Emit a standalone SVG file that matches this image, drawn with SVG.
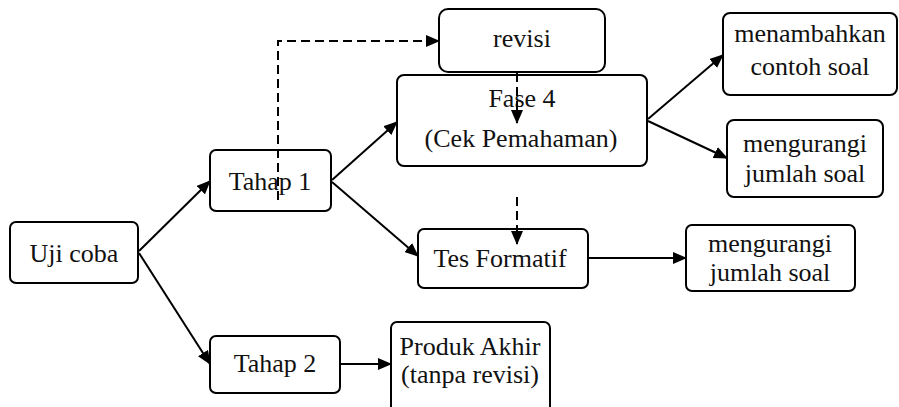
<svg xmlns="http://www.w3.org/2000/svg" width="899" height="407" viewBox="0 0 899 407">
<style>
.box{fill:#fff;stroke:#000;stroke-width:2}
text{font-family:'Liberation Serif','Times New Roman','DejaVu Serif',serif;font-size:26px;fill:#111;text-anchor:middle}
.c{fill:none;stroke:#000;stroke-width:2}
.d{fill:none;stroke:#000;stroke-width:2;stroke-dasharray:9 5}
</style>
<defs>
<marker id="ah" markerUnits="userSpaceOnUse" markerWidth="14" markerHeight="12" refX="13" refY="6" orient="auto">
<path d="M0,0 L14,6 L0,12 Z" fill="#000"/>
</marker>
</defs>
<g font-family="Liberation Serif, Times New Roman, serif">
<g id="n-uji"><rect class="box" x="10" y="222" width="128" height="61" rx="6"/><text x="74" y="262">Uji coba</text></g>
<g id="n-tahap1"><rect class="box" x="210" y="150" width="121" height="61" rx="6"/><text x="270" y="190">Tahap 1</text></g>
<g id="n-tahap2"><rect class="box" x="210" y="336" width="130" height="57" rx="6"/><text x="275" y="372">Tahap 2</text></g>
<g id="n-produk"><rect class="box" x="391" y="322" width="159" height="92" rx="6"/><text x="470" y="355">Produk Akhir</text><text x="470" y="383">(tanpa revisi)</text></g>
<g id="n-revisi"><rect class="box" x="439" y="9" width="166" height="63" rx="9"/><text x="522" y="47">revisi</text></g>
<g id="n-fase4"><rect class="box" x="397" y="75" width="250" height="91" rx="7"/><text x="522" y="107">Fase 4</text><text x="521" y="147">(Cek Pemahaman)</text></g>
<g id="n-tes"><rect class="box" x="418" y="229" width="170" height="59" rx="6"/><text x="500" y="267">Tes Formatif</text></g>
<g id="n-menambah"><rect class="box" x="723" y="13" width="174" height="82" rx="7"/><text x="810" y="42">menambahkan</text><text x="810" y="75">contoh soal</text></g>
<g id="n-kurang1"><rect class="box" x="727" y="120" width="156" height="77" rx="7"/><text x="805" y="152">mengurangi</text><text x="805" y="182">jumlah soal</text></g>
<g id="n-kurang2"><rect class="box" x="686" y="225" width="169" height="66" rx="6"/><text x="770" y="252">mengurangi</text><text x="770" y="281">jumlah soal</text></g>
</g>
<g id="connectors">
<line class="c" x1="139" y1="251" x2="210" y2="181" marker-end="url(#ah)"/>
<line class="c" x1="139" y1="253" x2="210" y2="364" marker-end="url(#ah)"/>
<line class="c" x1="332" y1="180" x2="397" y2="122" marker-end="url(#ah)"/>
<line class="c" x1="332" y1="182" x2="418" y2="256" marker-end="url(#ah)"/>
<line class="c" x1="341" y1="364" x2="391" y2="364" marker-end="url(#ah)"/>
<line class="c" x1="648" y1="119" x2="723" y2="55" marker-end="url(#ah)"/>
<line class="c" x1="648" y1="121" x2="727" y2="158" marker-end="url(#ah)"/>
<line class="c" x1="589" y1="258" x2="686" y2="258" marker-end="url(#ah)"/>
<path class="d" d="M278,200 L278,41 L439,41" marker-end="url(#ah)"/>
<line class="d" x1="517" y1="73" x2="517" y2="123" marker-end="url(#ah)"/>
<line class="d" x1="517" y1="197" x2="517" y2="244" marker-end="url(#ah)"/>
</g>
</svg>
